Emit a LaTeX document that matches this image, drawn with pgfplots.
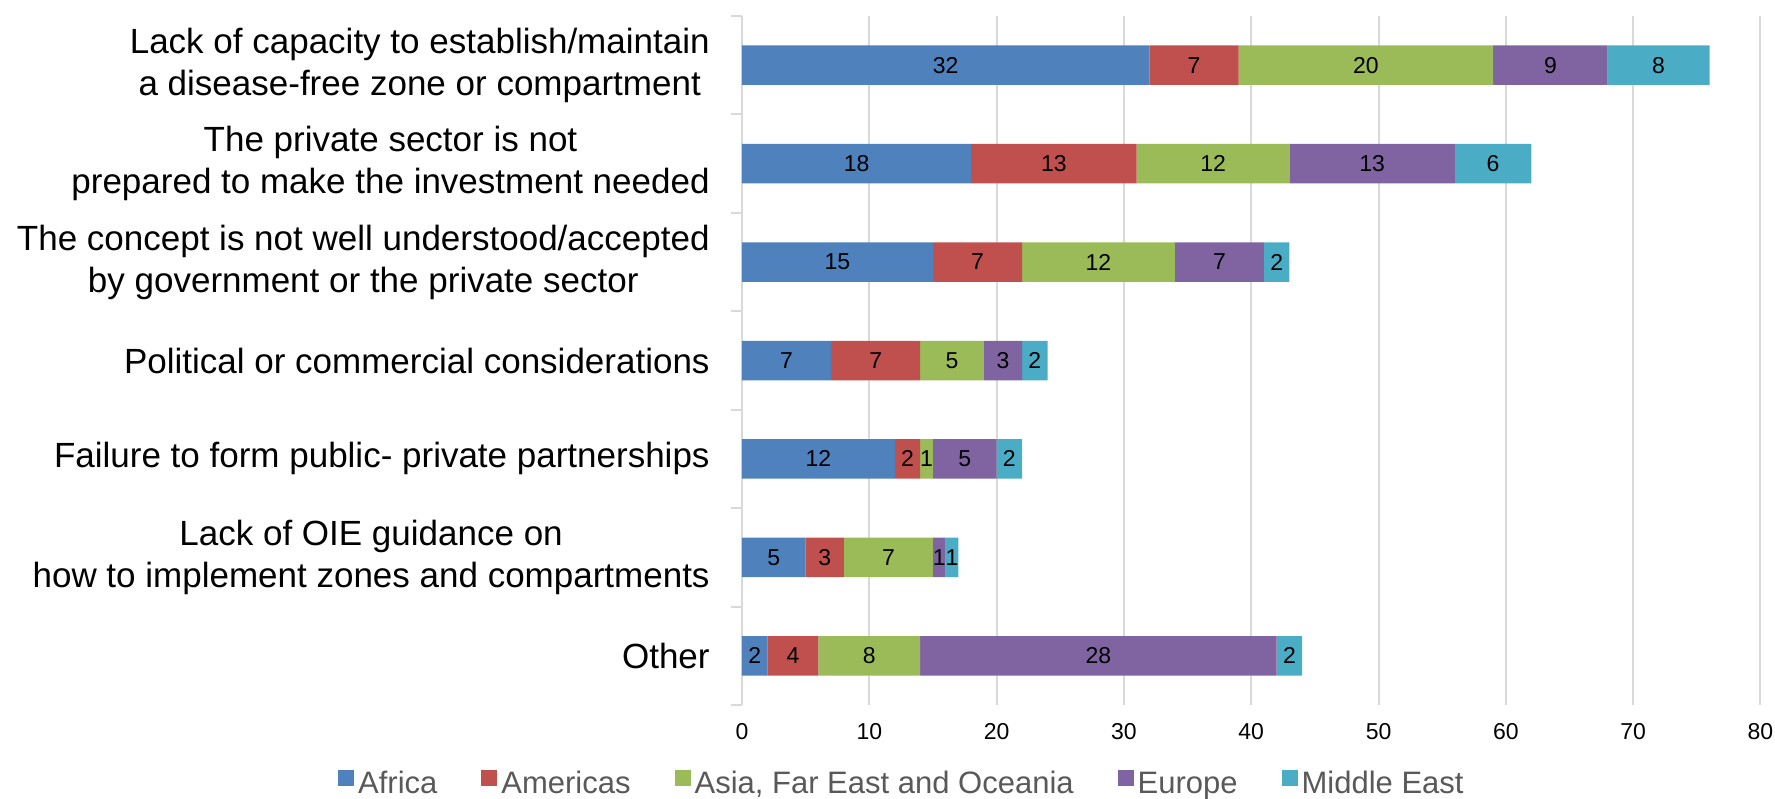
\documentclass[border=0pt]{standalone}
\usepackage{pgfplots}
\pgfplotsset{compat=1.18}
\usepackage{fontspec}
\setmainfont{Liberation Sans}

\definecolor{africa}{HTML}{4F81BD}
\definecolor{americas}{HTML}{C0504D}
\definecolor{asia}{HTML}{9BBB59}
\definecolor{europe}{HTML}{8064A2}
\definecolor{mideast}{HTML}{4BACC6}
\definecolor{gridgray}{HTML}{D9D9D9}
\definecolor{legendgray}{HTML}{595959}

\begin{document}
\begin{tikzpicture}
\begin{axis}[
  xbar stacked,
  scale only axis,
  width=509.25pt, height=344.5pt,
  bar width=19.75pt,
  xmin=0, xmax=80,
  ymin=-0.5, ymax=6.5,
  y dir=reverse,
  axis line style={draw=none},
  xtick={0,10,...,80},
  xmajorgrids,
  grid style={gridgray, line width=1pt},
  ytick={0,...,6},
  yticklabels={
    {Lack of capacity to establish/maintain\\a disease-free zone or compartment\ },
    {The private sector is not\\prepared to make the investment needed},
    {The concept is not well understood/accepted\\by government or the private sector},
    {Political or commercial considerations},
    {Failure to form public- private partnerships},
    {Lack of OIE guidance on\\how to implement zones and compartments},
    {Other}},
  minor ytick={-0.5,0.5,...,6.5},
  major tick length=0pt,
  minor tick length=5.5pt,
  tick align=outside,
  tick pos=left,
  minor tick style={gridgray, line width=1pt},
  yticklabel style={align=center, font=\fontsize{17.5}{21}\selectfont, inner sep=0pt, xshift=-16pt},
  xticklabel style={font=\fontsize{11.5}{13}\selectfont, anchor=center, inner sep=0pt, yshift=-13.5pt},
  /pgf/number format/assume math mode=true,
  % each segment is labelled with its own (unstacked) value
  point meta=rawx,
  nodes near coords={\pgfmathprintnumber{\pgfplotspointmeta}},
  every node near coord/.append style={anchor=center,
    font=\fontsize{11.5}{13}\selectfont, text=black},
  legend columns=-1,
  legend style={
    at={(axis description cs:0.158,-0.1147)}, anchor=center,
    draw=none, fill=none,
    font=\fontsize{15.5}{18}\selectfont, text=legendgray,
    /tikz/every even column/.append style={column sep=20pt},
  },
  legend image code/.code={\fill[#1] (0pt,-1pt) rectangle (8pt,7pt);},
]
\addplot[fill=africa, draw=none] coordinates {(32,0) (18,1) (15,2) (7,3) (12,4) (5,5) (2,6)};
\addplot[fill=americas, draw=none] coordinates {(7,0) (13,1) (7,2) (7,3) (2,4) (3,5) (4,6)};
\addplot[fill=asia, draw=none] coordinates {(20,0) (12,1) (12,2) (5,3) (1,4) (7,5) (8,6)};
\addplot[fill=europe, draw=none] coordinates {(9,0) (13,1) (7,2) (3,3) (5,4) (1,5) (28,6)};
\addplot[fill=mideast, draw=none] coordinates {(8,0) (6,1) (2,2) (2,3) (2,4) (1,5) (2,6)};
\legend{Africa, Americas, {Asia, Far East and Oceania}, Europe, Middle East}
\end{axis}
\pgfresetboundingbox
\path[use as bounding box] (current axis.south west) ++(-371pt,-46.5pt) rectangle ++(887.5pt,399pt);
\end{tikzpicture}
\end{document}
